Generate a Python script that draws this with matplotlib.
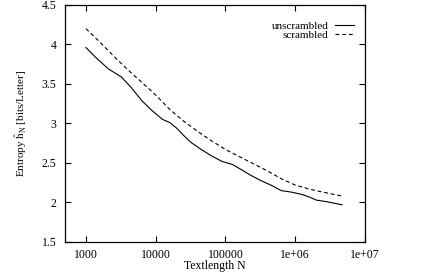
"""
Entropy estimate vs. text length, unscrambled vs. scrambled text.
"""

import numpy as np
import matplotlib
matplotlib.use('Agg')
import matplotlib.pyplot as plt

# data
N_unscr = [1000, 1400, 2100, 3200, 4500, 6300, 8900, 12600, 16000, 20000,
           25000, 32000, 45000, 63000, 89000, 126000, 158000, 224000,
           316000, 447000, 631000, 891000, 1260000, 1580000, 2000000,
           2800000, 4700000]
h_unscr = [3.96, 3.83, 3.69, 3.59, 3.45, 3.29, 3.16, 3.05, 3.01, 2.94,
           2.85, 2.76, 2.67, 2.59, 2.52, 2.48, 2.43, 2.35,
           2.28, 2.22, 2.15, 2.13, 2.10, 2.07, 2.03,
           2.01, 1.97]

N_scr = [1000, 1580, 2510, 3980, 6310, 10000, 15800, 25100, 39800, 63100,
         100000, 158000, 251000, 398000, 631000, 1000000, 1580000, 2510000,
         4700000]
h_scr = [4.20, 4.03, 3.85, 3.68, 3.52, 3.36, 3.18, 3.03, 2.90, 2.78,
         2.67, 2.58, 2.49, 2.40, 2.30, 2.22, 2.17, 2.13,
         2.08]

xticks = [1e3, 1e4, 1e5, 1e6, 1e7]
xtick_labels = ['1000', '10000', '100000', '1e+06', '1e+07']
yticks = [1.5, 2, 2.5, 3, 3.5, 4, 4.5]
ytick_labels = ['1.5', '2', '2.5', '3', '3.5', '4', '4.5']

plt.rcParams['font.family'] = ['Liberation Serif', 'DejaVu Serif']
plt.rcParams['mathtext.fontset'] = 'custom'
plt.rcParams['mathtext.rm'] = 'Liberation Serif'
plt.rcParams['mathtext.it'] = 'Liberation Serif:italic'

fig = plt.figure(figsize=(4.36, 2.74), dpi=100)
ax = fig.add_axes([0.149, 0.117, 0.688, 0.865])

ax.plot(N_unscr, h_unscr, color='black', linewidth=0.8, label='unscrambled')
ax.plot(N_scr, h_scr, color='black', linewidth=0.8, dashes=(3.5, 2.5),
        label='scrambled')

ax.set_xscale('log')
ax.set_xlim(500, 1e7)
ax.set_ylim(1.5, 4.5)
ax.set_xticks(xticks)
ax.set_xticklabels(xtick_labels)
ax.xaxis.set_minor_locator(matplotlib.ticker.NullLocator())
ax.set_yticks(yticks)
ax.set_yticklabels(ytick_labels)

ax.tick_params(direction='in', length=4, width=0.8, labelsize=8.5,
               top=True, right=True)
ax.tick_params(axis='x', pad=5)
ax.tick_params(axis='y', pad=6)
for sp in ax.spines.values():
    sp.set_linewidth(0.9)

ax.set_xlabel('Textlength N', fontsize=8.5)
ax.xaxis.set_label_coords(0.5, -0.075)
ax.set_ylabel(r'Entropy $\hat{\rm h}_{\rm N}$ [bits/Letter]', fontsize=8,
              labelpad=9)

ax.legend(loc='upper right', bbox_to_anchor=(0.978, 0.949), borderaxespad=0,
          frameon=False, markerfirst=False, fontsize=8,
          handlelength=1.7, handletextpad=0.6, labelspacing=-0.1)

fig.savefig('out.png', dpi=100)
